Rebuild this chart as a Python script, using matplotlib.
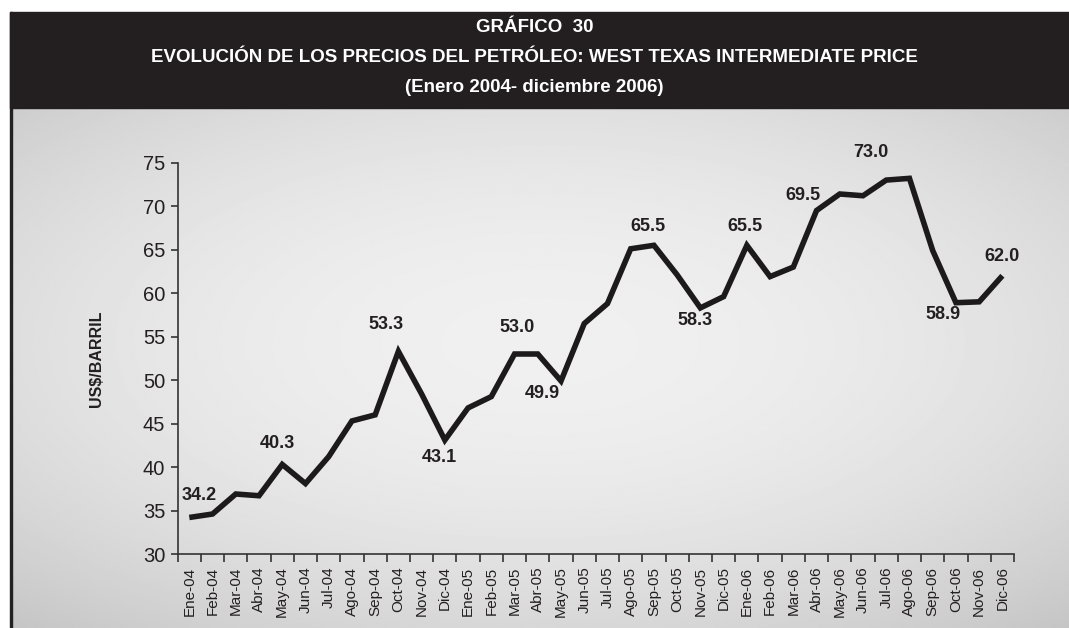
import numpy as np
import matplotlib.pyplot as plt
from matplotlib.patches import Rectangle

# Precio promedio mensual WTI (US$/barril), enero 2004 - diciembre 2006
meses = ["Ene", "Feb", "Mar", "Abr", "May", "Jun",
         "Jul", "Ago", "Sep", "Oct", "Nov", "Dic"]
anios = ["04", "05", "06"]
etiquetas = [f"{m}-{a}" for a in anios for m in meses]

precios = [34.2, 34.6, 36.9, 36.7, 40.3, 38.1, 41.2, 45.3, 46.0, 53.3, 48.4, 43.1,
           46.8, 48.1, 53.0, 53.0, 49.9, 56.5, 58.8, 65.1, 65.5, 62.1, 58.3, 59.6,
           65.5, 61.9, 63.0, 69.5, 71.4, 71.2, 73.0, 73.2, 64.9, 58.9, 59.0, 62.0]

# puntos rotulados: indice -> desplazamiento del texto (px)
rotulos = {0: (10, 22), 4: (-5, 21), 9: (-12, 27), 11: (-6, -17),
           14: (3, 27), 16: (-19, -13), 20: (-6, 19), 22: (-5, -13),
           24: (-2, 19), 27: (-14, 15), 30: (-15, 28), 33: (-13, -12),
           35: (0, 19)}

W, H = 1069, 628
fig = plt.figure(figsize=(W / 100, H / 100), dpi=100)
fig.patch.set_facecolor("white")

# fondo gris degradado (mas claro al centro)
bg = fig.add_axes([11 / W, 0, 1 - 11 / W, (H - 108) / H], zorder=0)
yy, xx = np.mgrid[-1:1:300j, -1:1:600j]
r = np.sqrt((xx * 0.8) ** 2 + ((yy + 0.1) * 0.85) ** 2)
grad = 0.94 - 0.11 * np.clip(r, 0, 1.3) ** 2
bg.imshow(grad, cmap="gray", vmin=0, vmax=1, aspect="auto",
          extent=[0, 1, 0, 1], interpolation="bilinear")
bg.set_axis_off()

# borde izquierdo
fig.add_artist(Rectangle((10 / W, 0), 1.5 / W, (H - 12) / H,
                         transform=fig.transFigure, color="#222222", zorder=1))

# banda del titulo
fig.add_artist(Rectangle((10 / W, (H - 108) / H), 1 - 10 / W, 96 / H,
                         transform=fig.transFigure, color="#231f20", zorder=1))
tfont = "Liberation Sans"
titulos = ["GRÁFICO  30",
           "EVOLUCIÓN DE LOS PRECIOS DEL PETRÓLEO: WEST TEXAS INTERMEDIATE PRICE",
           "(Enero 2004- diciembre 2006)"]
for ty, txt in zip([27, 58, 88], titulos):
    fig.text(0.5, 1 - ty / H, txt, color="white", ha="center", va="center",
             fontsize=13.5, fontweight="bold", family=tfont)

# grafico de linea
ax = fig.add_axes([177.7 / W, 74 / H, (1014 - 177.7) / W, (554 - 162.7) / H], zorder=2)
ax.patch.set_alpha(0)
x = np.arange(len(precios)) + 0.5
ax.plot(x, precios, color="#1c1a1a", lw=4, solid_joinstyle="miter",
        solid_capstyle="butt")

for i, (dx, dy) in rotulos.items():
    ax.annotate(f"{precios[i]:.1f}", (x[i], precios[i]), xytext=(dx, dy),
                textcoords="offset pixels", ha="center", va="center",
                fontsize=13, fontweight="bold", color="#231f20",
                family="Liberation Sans")

ax.set_xlim(0, len(precios))
ax.set_ylim(30, 75)
ax.set_yticks(range(30, 80, 5))
ax.set_xticks(np.arange(len(precios) + 1))
ax.set_xticklabels([])
ax.set_xticks(x, minor=True)
ax.set_xticklabels(etiquetas, minor=True, rotation=90, fontsize=11,
                   family="Liberation Sans", color="#231f20")
ax.tick_params(axis="x", which="major", length=6, width=1.2, color="#333333")
ax.tick_params(axis="x", which="minor", length=0, pad=9)
ax.tick_params(axis="y", length=5, width=1.2, color="#333333", pad=4,
               labelsize=14.5, labelcolor="#231f20")
for lbl in ax.get_yticklabels():
    lbl.set_family("Liberation Sans")
for s in ["top", "right"]:
    ax.spines[s].set_visible(False)
for s in ["left", "bottom"]:
    ax.spines[s].set_color("#333333")
    ax.spines[s].set_linewidth(1.2)

fig.text(96 / W, 1 - 359 / H, "US$/BARRIL", rotation=90, ha="center", va="center",
         fontsize=11.5, fontweight="bold", color="#231f20", family="Liberation Sans")

fig.savefig("out.png", dpi=100)
